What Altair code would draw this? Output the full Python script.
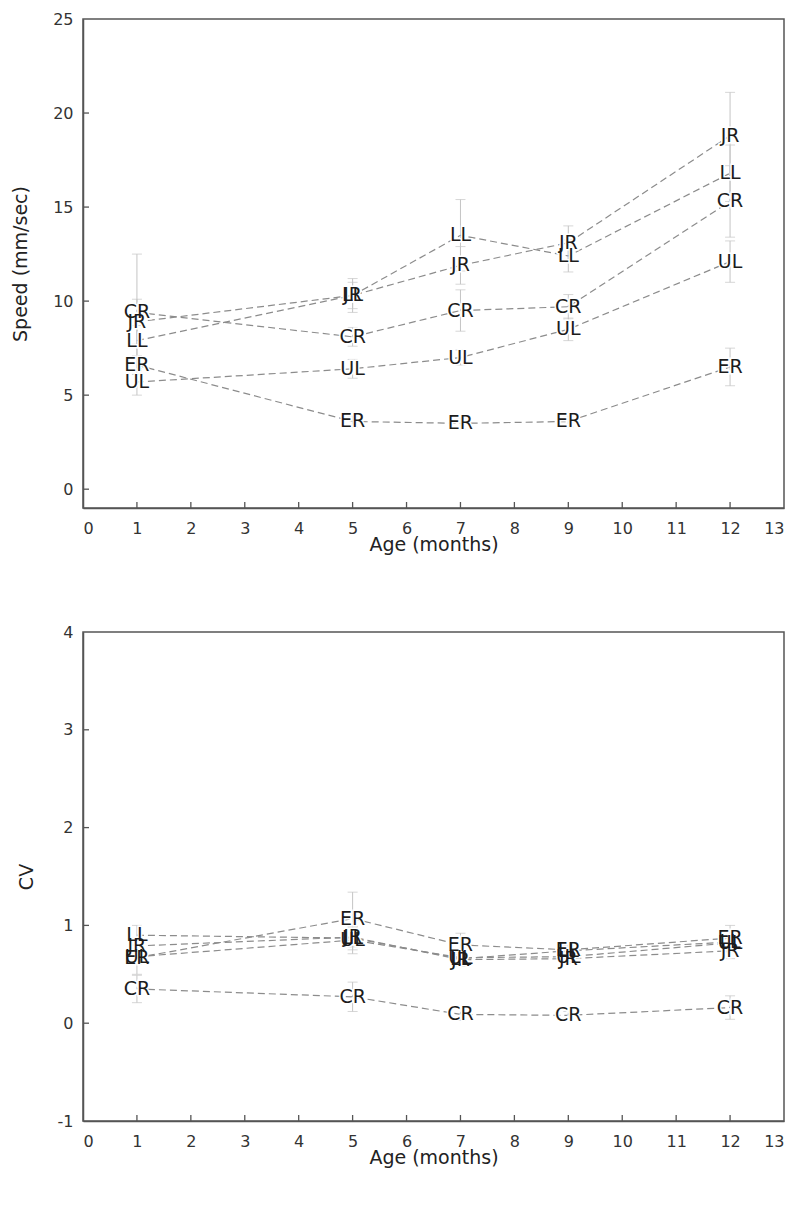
import altair as alt
import pandas as pd

ages = [1, 5, 7, 9, 12]
series = ["CR", "JR", "LL", "ER", "UL"]

# Speed (mm/sec)
speed_CR = [9.4, 8.1, 9.5, 9.7, 15.3]
speed_JR = [8.9, 10.3, 11.9, 13.1, 18.8]
speed_LL = [7.9, 10.3, 13.5, 12.4, 16.8]
speed_ER = [6.6, 3.6, 3.5, 3.6, 6.5]
speed_UL = [5.7, 6.4, 7.0, 8.5, 12.1]
speed_err_CR = [3.1, 0.5, 1.1, 0.65, 1.9]
speed_err_JR = [1.2, 0.9, 1.0, 0.9, 2.3]
speed_err_LL = [0.8, 0.7, 1.9, 0.85, 1.5]
speed_err_ER = [0.5, 0.3, 0.3, 0.3, 1.0]
speed_err_UL = [0.7, 0.5, 0.4, 0.6, 1.1]

# CV
cv_CR = [0.35, 0.27, 0.09, 0.08, 0.16]
cv_JR = [0.79, 0.88, 0.65, 0.66, 0.74]
cv_LL = [0.90, 0.87, 0.66, 0.74, 0.83]
cv_ER = [0.67, 1.07, 0.80, 0.75, 0.87]
cv_UL = [0.68, 0.85, 0.67, 0.68, 0.82]
cv_err_CR = [0.14, 0.15, 0.06, 0.04, 0.12]
cv_err_JR = [0.08, 0.10, 0.05, 0.05, 0.08]
cv_err_LL = [0.10, 0.12, 0.08, 0.05, 0.10]
cv_err_ER = [0.17, 0.27, 0.12, 0.05, 0.13]
cv_err_UL = [0.08, 0.14, 0.06, 0.05, 0.08]

x_ticks = list(range(0, 14))
x_inner_ticks = list(range(1, 13))
speed_ticks = [0, 5, 10, 15, 20, 25]
speed_inner_ticks = [0, 5, 10, 15, 20]
cv_ticks = [-1, 0, 1, 2, 3, 4]
cv_inner_ticks = [0, 1, 2, 3]

speed_vals = {"CR": speed_CR, "JR": speed_JR, "LL": speed_LL, "ER": speed_ER, "UL": speed_UL}
speed_errs = {"CR": speed_err_CR, "JR": speed_err_JR, "LL": speed_err_LL, "ER": speed_err_ER, "UL": speed_err_UL}
cv_vals = {"CR": cv_CR, "JR": cv_JR, "LL": cv_LL, "ER": cv_ER, "UL": cv_UL}
cv_errs = {"CR": cv_err_CR, "JR": cv_err_JR, "LL": cv_err_LL, "ER": cv_err_ER, "UL": cv_err_UL}

FONT = "DejaVu Sans"
W, H = 701, 489


def make_df(vals, errs):
    rows = []
    for s in series:
        for a, v, e in zip(ages, vals[s], errs[s]):
            rows.append({"age": a, "series": s, "value": v, "lo": v - e, "hi": v + e})
    return pd.DataFrame(rows)


def panel(df, ydomain, yvalues, yinner, ytitle, title_x):
    xs = alt.Scale(domain=[0, 13], nice=False)
    ys = alt.Scale(domain=ydomain, nice=False, zero=False)
    xax = alt.Axis(values=x_ticks, title="Age (months)", ticks=False, tickSize=0,
                   labelPadding=12, titleBaseline="middle", titleY=36, grid=False)
    yax = alt.Axis(values=yvalues, title=ytitle, ticks=False, tickSize=0,
                   labelPadding=10, titleX=title_x, titleY=H / 2,
                   labelExpr="'' + datum.value",
                   titleBaseline="middle", grid=False)
    base = alt.Chart(df)
    err_rule = base.mark_rule(color="#c4c4c4", strokeWidth=1).encode(
        x=alt.X("age:Q", scale=xs, axis=xax),
        y=alt.Y("lo:Q", scale=ys, axis=yax),
        y2="hi:Q",
    )
    cap_lo = base.mark_tick(color="#c4c4c4", orient="horizontal", size=10, thickness=1).encode(
        x="age:Q", y="lo:Q")
    cap_hi = base.mark_tick(color="#c4c4c4", orient="horizontal", size=10, thickness=1).encode(
        x="age:Q", y="hi:Q")
    lines = base.mark_line(color="#8c8c8c", strokeWidth=1.2, strokeDash=[7, 4]).encode(
        x="age:Q", y="value:Q", detail="series:N", order="age:Q")
    halo = base.mark_text(font=FONT, fontSize=19, color="white", stroke="white",
                          strokeWidth=3).encode(x="age:Q", y="value:Q", text="series:N")
    text = base.mark_text(font=FONT, fontSize=19, color="#1c1c1c").encode(
        x="age:Q", y="value:Q", text="series:N")
    xt = alt.Chart(pd.DataFrame({"t": x_inner_ticks})).mark_rule(
        color="#555", strokeWidth=1.3).encode(
        x=alt.X("t:Q"), y=alt.value(H), y2=alt.value(H - 6))
    yt = alt.Chart(pd.DataFrame({"t": yinner})).mark_rule(
        color="#555", strokeWidth=1.3).encode(
        y=alt.Y("t:Q"), x=alt.value(0), x2=alt.value(6))
    return alt.layer(err_rule, cap_lo, cap_hi, lines, halo, text, xt, yt).properties(
        width=W, height=H)


top = panel(make_df(speed_vals, speed_errs), [-1, 25], speed_ticks, speed_inner_ticks,
            "Speed (mm/sec)", -63)
bottom = panel(make_df(cv_vals, cv_errs), [-1, 4], cv_ticks, cv_inner_ticks, "CV", -57)

chart = alt.vconcat(top, bottom, spacing=68).properties(
    padding={"left": 2, "top": 2, "right": 5, "bottom": 5}
).configure_view(stroke="#555", strokeWidth=1.5).configure_axis(
    domainColor="#555", domainWidth=1.5, labelFont=FONT, labelFontSize=16,
    labelColor="#333", titleFont=FONT, titleFontSize=19, titleFontWeight="normal",
    titleColor="#222"
)

chart.save("out.html", embed_options={"renderer": "svg", "actions": False})
